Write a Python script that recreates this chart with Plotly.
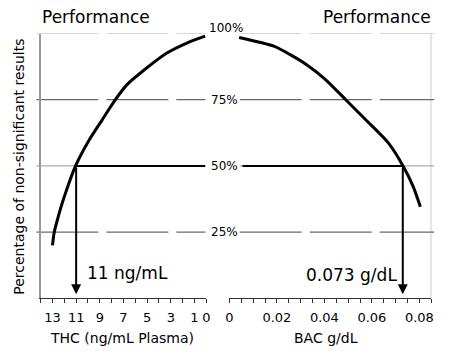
import plotly.graph_objects as go

# ---- data ----
thc_x = [13.0, 12.85, 12.5, 12.1, 11.05, 9.9, 8.8, 7.8, 6.7, 5.2, 3.3, 1.6, 0.1]
thc_pct = [20, 25, 31, 37, 50, 59.8, 67.4, 74.3, 80.7, 86.4, 92.7, 96.5, 99]
bac_x = [0.0041, 0.0187, 0.0256, 0.0325, 0.04, 0.049, 0.0573, 0.067, 0.0733, 0.0774, 0.0804]
bac_pct = [98.5, 95.2, 92.0, 88.2, 83.0, 75, 67.5, 58.6, 49.7, 42.2, 34.6]

thc_tickvals = list(range(0, 15))
thc_labels = {13: "13", 11: "11", 9: "9", 7: "7", 5: "5", 3: "3", 1: "1", 0: "0"}
bac_tickvals = [round(i * 0.005, 3) for i in range(0, 18)]
bac_labels = {0.0: "0", 0.02: "0.02", 0.04: "0.04", 0.06: "0.06", 0.08: "0.08"}
grid_levels = [100, 75, 50, 25]
grid_text = ["100%", "75%", "50%", "25%"]
thc_threshold = 11
bac_threshold = 0.073
threshold_pct = 50

W, H = 450, 356
FONT = "DejaVu Sans"

def px(x):
    return x / W

def py(y):
    return 1 - y / H

fig = go.Figure()
fig.add_trace(go.Scatter(x=thc_x, y=thc_pct, xaxis="x", yaxis="y", mode="lines",
                         line=dict(color="black", width=3, shape="spline", smoothing=0.7),
                         hoverinfo="skip", showlegend=False))
fig.add_trace(go.Scatter(x=bac_x, y=bac_pct, xaxis="x2", yaxis="y", mode="lines",
                         line=dict(color="black", width=3, shape="spline", smoothing=0.7),
                         hoverinfo="skip", showlegend=False))

shapes = []
# gridlines (dashed), with a gap for the centre percentage labels
for lvl in grid_levels:
    col = "#b0b0b0" if lvl == 100 else ("#999999" if lvl == 50 else "#444444")
    for a, b in [(33, 205), (240, 438)]:
        shapes.append(dict(type="line", xref="paper", yref="y", x0=px(a), x1=px(b),
                           y0=lvl, y1=lvl, layer="below",
                           line=dict(color=col, width=1, dash="62px,8px")))
# right vertical line
shapes.append(dict(type="line", xref="x2", yref="y", x0=0.085, x1=0.085, y0=0, y1=100,
                   layer="below", line=dict(color="#888888", width=1)))
# threshold horizontal lines
shapes.append(dict(type="line", xref="x", yref="y", x0=thc_threshold, x1=0.1,
                   y0=threshold_pct, y1=threshold_pct, line=dict(color="black", width=2)))
shapes.append(dict(type="line", xref="x2", yref="y", x0=0.0055, x1=bac_threshold,
                   y0=threshold_pct, y1=threshold_pct, line=dict(color="black", width=2)))

annotations = []
# threshold arrows
for xr, xv in [("x", thc_threshold), ("x2", bac_threshold)]:
    annotations.append(dict(xref=xr, yref="y", x=xv, y=1.5, axref=xr, ayref="y",
                            ax=xv, ay=threshold_pct, showarrow=True, arrowhead=2,
                            arrowsize=1, arrowwidth=2, arrowcolor="black", text=""))
# centre percentage labels
for lvl, t in zip(grid_levels, grid_text):
    if lvl == 100:
        annotations.append(dict(xref="paper", yref="y", x=px(226), y=lvl, text=t,
                                showarrow=False, xanchor="center", yanchor="bottom", yshift=-4,
                                font=dict(family=FONT, size=12, color="black")))
    else:
        annotations.append(dict(xref="paper", yref="y", x=px(224), y=lvl, text=t,
                                showarrow=False, xanchor="center", yanchor="middle",
                                font=dict(family=FONT, size=12, color="black")))
# titles
annotations += [
    dict(xref="paper", yref="paper", x=px(94), y=py(17), text="Performance", showarrow=False,
         xanchor="center", yanchor="middle", font=dict(family=FONT, size=17, color="black")),
    dict(xref="paper", yref="paper", x=px(380), y=py(17), text="Performance", showarrow=False,
         xanchor="center", yanchor="middle", font=dict(family=FONT, size=17, color="black")),
    dict(xref="paper", yref="paper", x=px(120), y=py(338), text="THC (ng/mL Plasma)",
         showarrow=False, xanchor="center", yanchor="middle",
         font=dict(family=FONT, size=14, color="black")),
    dict(xref="paper", yref="paper", x=px(328), y=py(338), text="BAC g/dL",
         showarrow=False, xanchor="center", yanchor="middle",
         font=dict(family=FONT, size=14, color="black")),
    dict(xref="paper", yref="paper", x=px(15), y=py(167), text="Percentage of non-significant results",
         showarrow=False, textangle=-90, xanchor="center", yanchor="middle",
         font=dict(family=FONT, size=14, color="black")),
    dict(xref="paper", yref="paper", x=px(82), y=py(273), text="11 ng/mL", xanchor="left",
         yanchor="middle", showarrow=False, font=dict(family=FONT, size=17, color="black")),
    dict(xref="paper", yref="paper", x=px(402), y=py(275), text="0.073 g/dL", xanchor="right",
         yanchor="middle", showarrow=False, font=dict(family=FONT, size=17, color="black")),
]

axis_common = dict(showline=True, linecolor="#333333", linewidth=1, ticks="outside",
                   ticklen=4, tickcolor="#333333", showgrid=False, zeroline=False,
                   anchor="y", tickfont=dict(family=FONT, size=13, color="black"),
                   ticklabelstandoff=3, fixedrange=True)

fig.update_layout(
    width=W, height=H, margin=dict(l=0, r=0, t=0, b=0),
    paper_bgcolor="white", plot_bgcolor="white", showlegend=False,
    xaxis=dict(domain=[px(37.3), px(206)], range=[14, 0], tickmode="array",
               tickvals=thc_tickvals, ticktext=[thc_labels.get(v, "") for v in thc_tickvals],
               **axis_common),
    xaxis2=dict(domain=[px(229.5), px(435)], range=[0, 0.085], tickmode="array",
                tickvals=bac_tickvals, ticktext=[bac_labels.get(v, "") for v in bac_tickvals],
                **axis_common),
    yaxis=dict(domain=[py(298.3), py(33.5)], range=[0, 100], showline=True,
               linecolor="#999999", linewidth=1.5, showticklabels=False, ticks="",
               showgrid=False, zeroline=False, anchor="x", fixedrange=True),
    shapes=shapes, annotations=annotations,
)

fig.write_html("out.html", config={"displayModeBar": False},
               post_script="document.body.style.margin='0';document.body.style.overflow='hidden';")
